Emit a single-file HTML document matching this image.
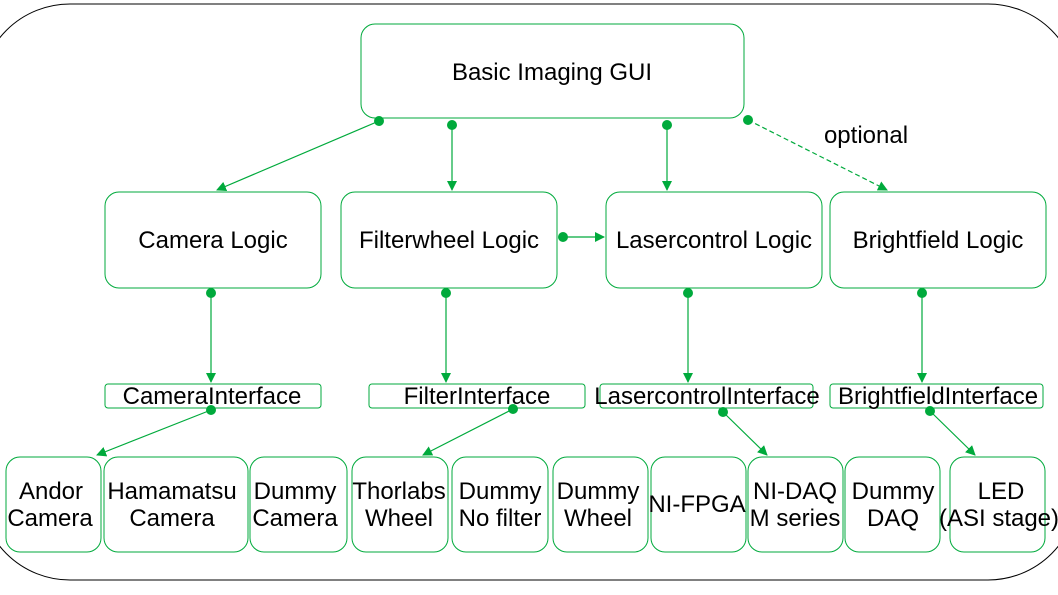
<!DOCTYPE html>
<html><head><meta charset="utf-8"><style>
html,body{margin:0;padding:0;background:#fff;}
svg{display:block;}
text{font-family:"Liberation Sans",sans-serif;fill:#000;}
</style></head><body>
<svg width="1058" height="595" viewBox="0 0 1058 595" xmlns="http://www.w3.org/2000/svg">
<defs>
<marker id="a" markerWidth="10" markerHeight="10" refX="9" refY="5" orient="auto" markerUnits="userSpaceOnUse"><path d="M0,0 L10,5 L0,10 Z" fill="#00aa3c"/></marker>
</defs>
<rect x="-20" y="4" width="1098" height="576" rx="90" ry="90" fill="none" stroke="#000" stroke-width="1"/>
<g fill="#fff" stroke="#00aa3c" stroke-width="1">
<rect x="361" y="24" width="383" height="94" rx="14"/>
<rect x="105" y="192" width="216" height="96" rx="14"/>
<rect x="341" y="192" width="216" height="96" rx="14"/>
<rect x="606" y="192" width="216" height="96" rx="14"/>
<rect x="830" y="192" width="216" height="96" rx="14"/>
<rect x="105" y="384" width="216" height="24" rx="3"/>
<rect x="369" y="384" width="216" height="24" rx="3"/>
<rect x="600" y="384" width="213" height="24" rx="3"/>
<rect x="830" y="384" width="213" height="24" rx="3"/>
<rect x="6" y="457" width="95" height="95" rx="14"/>
<rect x="104" y="457" width="144" height="95" rx="14"/>
<rect x="250" y="457" width="97" height="95" rx="14"/>
<rect x="352" y="457" width="96" height="95" rx="14"/>
<rect x="452" y="457" width="96" height="95" rx="14"/>
<rect x="553" y="457" width="95" height="95" rx="14"/>
<rect x="651" y="457" width="95" height="95" rx="14"/>
<rect x="748" y="457" width="95" height="95" rx="14"/>
<rect x="845" y="457" width="95" height="95" rx="14"/>
<rect x="950" y="457" width="95" height="95" rx="14"/>
</g>
<g stroke="#00aa3c" stroke-width="1.2" fill="none" marker-end="url(#a)">
<line x1="379" y1="121" x2="217" y2="190"/>
<line x1="452" y1="125" x2="452" y2="190"/>
<line x1="667" y1="125" x2="667" y2="190"/>
<line x1="748" y1="120" x2="887" y2="190" stroke-dasharray="5,3"/>
<line x1="563" y1="237" x2="604" y2="237"/>
<line x1="211" y1="293" x2="211" y2="382"/>
<line x1="446" y1="293" x2="446" y2="382"/>
<line x1="688" y1="293" x2="688" y2="382"/>
<line x1="922" y1="293" x2="922" y2="382"/>
<line x1="211" y1="410" x2="97" y2="455"/>
<line x1="513" y1="409" x2="423" y2="455"/>
<line x1="723" y1="412" x2="767" y2="455"/>
<line x1="930" y1="411" x2="975" y2="455"/>
</g>
<g fill="#00aa3c">
<circle cx="379" cy="121" r="5"/><circle cx="452" cy="125" r="5"/><circle cx="667" cy="125" r="5"/><circle cx="748" cy="120" r="5"/>
<circle cx="563" cy="237" r="5"/>
<circle cx="211" cy="293" r="5"/><circle cx="446" cy="293" r="5"/><circle cx="688" cy="293" r="5"/><circle cx="922" cy="293" r="5"/>
<circle cx="211" cy="410" r="5"/><circle cx="513" cy="409" r="5"/><circle cx="723" cy="412" r="5"/><circle cx="930" cy="411" r="5"/>
</g>
<g font-size="24" text-anchor="middle">
<text x="552" y="80">Basic Imaging GUI</text>
<text x="213" y="248">Camera Logic</text>
<text x="449" y="248">Filterwheel Logic</text>
<text x="714" y="248">Lasercontrol Logic</text>
<text x="938" y="248">Brightfield Logic</text>
<text x="866" y="143">optional</text>
<text x="212" y="404">CameraInterface</text>
<text x="477" y="404">FilterInterface</text>
<text x="707" y="404">LasercontrolInterface</text>
<text x="938" y="404">BrightfieldInterface</text>
<text x="51" y="499">Andor</text><text x="50" y="526">Camera</text>
<text x="172" y="499">Hamamatsu</text><text x="172" y="526">Camera</text>
<text x="295" y="499">Dummy</text><text x="295" y="526">Camera</text>
<text x="399" y="499">Thorlabs</text><text x="399" y="526">Wheel</text>
<text x="500" y="499">Dummy</text><text x="500" y="526">No filter</text>
<text x="598" y="499">Dummy</text><text x="598" y="526">Wheel</text>
<text x="697" y="512">NI-FPGA</text>
<text x="795" y="499">NI-DAQ</text><text x="795" y="526">M series</text>
<text x="893" y="499">Dummy</text><text x="893" y="526">DAQ</text>
<text x="1001" y="499">LED</text><text x="999" y="526">(ASI stage)</text>
</g>
</svg>
</body></html>
